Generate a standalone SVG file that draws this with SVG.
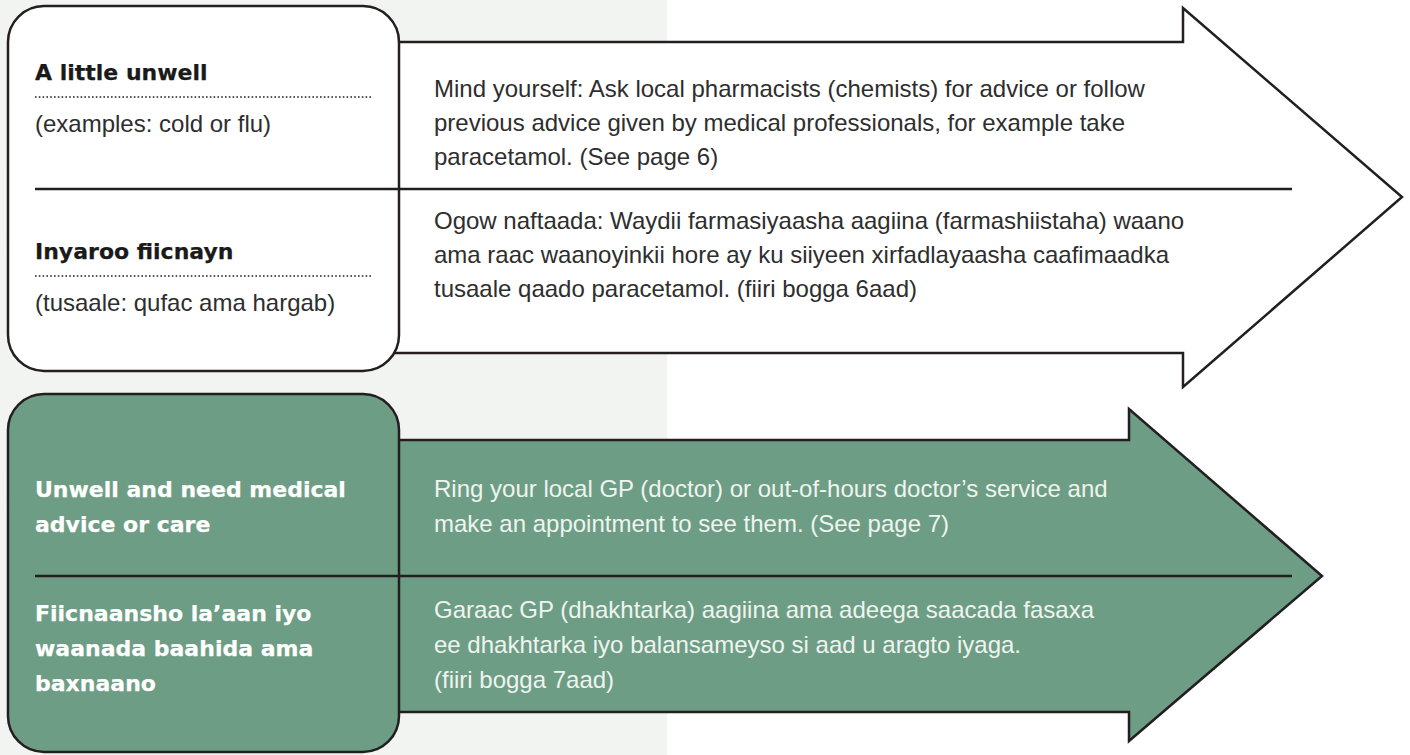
<svg xmlns="http://www.w3.org/2000/svg" width="1410" height="755" viewBox="0 0 1410 755">
<style>
.edge{stroke:#231f20;stroke-width:2.5;stroke-linejoin:miter}
.rule{stroke:#231f20;stroke-width:2.5}
.dots{stroke:#231f20;stroke-width:1.6;stroke-dasharray:1.6 2.2}
.head{font-family:"DejaVu Sans",sans-serif;font-weight:bold;font-size:22px;stroke-width:0.25;stroke-linejoin:round}
.body{font-family:"Liberation Sans",Arial,sans-serif;font-size:24px}
.dark{fill:#2e2e2e}
.headdark{fill:#1a1a1a;stroke:#1a1a1a}
.light{fill:#eef4ef}
.white{fill:#ffffff;stroke:#ffffff}
</style>
<rect x="0" y="0" width="1410" height="755" fill="#ffffff"/>
<rect x="0" y="0" width="667" height="755" fill="#f2f4f1"/>
<g id="connectors">
<polygon id="arrow-top" class="edge" fill="#ffffff" points="380,42 1183,42 1183,8 1402,197 1183,387 1183,353 380,353"/>
<polygon id="arrow-bottom" class="edge" fill="#6e9d85" points="380,440 1129,440 1129,409 1322,576 1129,741 1129,712 380,712"/>
</g>
<g id="node-little-unwell">
<rect x="8" y="6" width="391" height="365" rx="36" ry="36" class="edge" fill="#ffffff"/>
<line x1="35" y1="189" x2="1292" y2="189" class="rule"/>
<line x1="35" y1="97" x2="373" y2="97" class="dots"/>
<line x1="35" y1="276" x2="373" y2="276" class="dots"/>
<text x="35" y="80" class="head headdark">A little unwell</text>
<text x="35" y="132" class="body dark">(examples: cold or flu)</text>
<text x="35" y="259" class="head headdark">Inyaroo fiicnayn</text>
<text x="35" y="311" class="body dark">(tusaale: qufac ama hargab)</text>
<text class="body dark"><tspan x="434" y="97">Mind yourself: Ask local pharmacists (chemists) for advice or follow</tspan><tspan x="434" y="131">previous advice given by medical professionals, for example take</tspan><tspan x="434" y="165">paracetamol. (See page 6)</tspan></text>
<text class="body dark"><tspan x="434" y="229">Ogow naftaada: Waydii farmasiyaasha aagiina (farmashiistaha) waano</tspan><tspan x="434" y="263">ama raac waanoyinkii hore ay ku siiyeen xirfadlayaasha caafimaadka</tspan><tspan x="434" y="297">tusaale qaado paracetamol. (fiiri bogga 6aad)</tspan></text>
</g>
<g id="node-need-medical">
<rect x="8" y="394" width="391" height="358" rx="36" ry="36" class="edge" fill="#6e9d85"/>
<line x1="35" y1="576" x2="1292" y2="576" class="rule"/>
<text class="head white"><tspan x="35" y="497">Unwell and need medical</tspan><tspan x="35" y="532">advice or care</tspan></text>
<text class="head white"><tspan x="35" y="621">Fiicnaansho la’aan iyo</tspan><tspan x="35" y="656">waanada baahida ama</tspan><tspan x="35" y="691">baxnaano</tspan></text>
<text class="body light"><tspan x="434" y="497">Ring your local GP (doctor) or out-of-hours doctor’s service and</tspan><tspan x="434" y="532">make an appointment to see them. (See page 7)</tspan></text>
<text class="body light"><tspan x="434" y="618">Garaac GP (dhakhtarka) aagiina ama adeega saacada fasaxa</tspan><tspan x="434" y="653">ee dhakhtarka iyo balansameyso si aad u aragto iyaga.</tspan><tspan x="434" y="688">(fiiri bogga 7aad)</tspan></text>
</g>
</svg>
